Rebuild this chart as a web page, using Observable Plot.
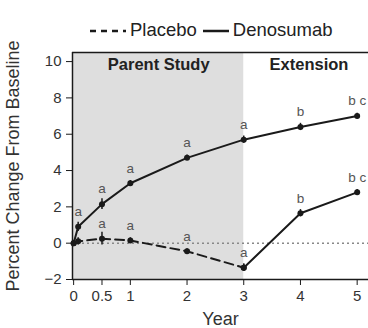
<!DOCTYPE html>
<html><head><meta charset="utf-8">
<script src="https://cdn.jsdelivr.net/npm/d3@7"></script>
<script src="https://cdn.jsdelivr.net/npm/@observablehq/plot@0.6"></script>
<style>
html,body{margin:0;padding:0;background:#fff;}
#wrap{position:relative;width:368px;height:328px;font-family:"Liberation Sans",Arial,sans-serif;}
#legend{position:absolute;left:88px;top:19px;white-space:nowrap;font-size:18.5px;color:#222;z-index:2;line-height:22px;}
#legend svg{vertical-align:middle;}
</style></head>
<body>
<div id="wrap"><div id="legend"></div></div>
<script>
const years = [0, 0.08, 0.5, 1, 2, 3, 4, 5];
const denosumab = [0, 0.9, 2.15, 3.3, 4.7, 5.7, 6.4, 7.0];
const denoErr = [0.15, 0.25, 0.3, 0.15, 0.15, 0.2, 0.2, 0.15];
const denoLabels = ["", "a", "a", "a", "a", "a", "b", "b c"];
const placebo = [0, 0.1, 0.25, 0.15, -0.45, -1.35];
const placeboErr = [0.15, 0.2, 0.35, 0.15, 0.15, 0.2];
const placeboLabels = ["", "", "a", "a", "a", "a"];
const crossYears = [3, 4, 5];
const crossover = [-1.35, 1.65, 2.8];
const crossErr = [0.2, 0.2, 0.15];
const crossLabels = ["", "b", "b c"];
const xTicks = [0, 0.5, 1, 2, 3, 4, 5];
const yTicks = [-2, 0, 2, 4, 6, 8, 10];
const periods = [{label: "Parent Study", x1: 0, x2: 3, fill: "#dedede"}, {label: "Extension", x1: 3, x2: 5.2, fill: "none"}];

const deno = years.map((x, i) => ({x, y: denosumab[i], e: denoErr[i], l: denoLabels[i]}));
const plac = placebo.map((y, i) => ({x: years[i], y, e: placeboErr[i], l: placeboLabels[i]}));
const cross = crossYears.map((x, i) => ({x, y: crossover[i], e: crossErr[i], l: crossLabels[i]}));
const allPts = [...deno, ...plac, ...cross];

const ink = "#1a1a1a";
const chart = Plot.plot({
  width: 368, height: 328,
  marginLeft: 72, marginRight: 0, marginTop: 52, marginBottom: 49,
  style: {fontFamily: "Liberation Sans, Arial, sans-serif", fontSize: "15px", color: "#333", background: "transparent"},
  x: {domain: [-0.02, 5.2]},
  y: {domain: [-2, 10.5]},
  marks: [
    Plot.rectX(periods, {x1: "x1", x2: "x2", y1: -2, y2: 10.5, fill: "fill"}),
    Plot.text(periods, {x: d => (d.x1 + Math.min(d.x2, 5)) / 2 + (d.x1 === 3 ? 0.15 : 0), y: 9.8, text: "label", fontWeight: "bold", fontSize: 16.5, fill: "#222"}),
    Plot.ruleY([0], {stroke: "#888", strokeWidth: 1.5, strokeDasharray: "2,3"}),
    Plot.ruleY([10.5], {stroke: ink, strokeWidth: 1.5}),
    Plot.line(plac, {x: "x", y: "y", stroke: ink, strokeWidth: 2, strokeDasharray: "9,5"}),
    Plot.line(deno, {x: "x", y: "y", stroke: ink, strokeWidth: 2}),
    Plot.line(cross, {x: "x", y: "y", stroke: ink, strokeWidth: 2}),
    Plot.ruleX(allPts, {x: "x", y1: d => d.y - d.e, y2: d => d.y + d.e, stroke: ink, strokeWidth: 1.5}),
    Plot.dot(allPts, {x: "x", y: "y", r: 3, fill: ink}),
    Plot.text(allPts.filter(d => d.l), {x: "x", y: "y", text: "l", dy: -15, fill: "#555", fontSize: 13.5}),
    Plot.axisX({ticks: xTicks, tickFormat: d => String(d), tickSize: 6, stroke: ink, fontSize: 15, fill: "#333", tickPadding: 5, label: null}),
    Plot.axisX({ticks: [], label: "Year", labelAnchor: "center", labelArrow: "none", labelOffset: 45, fontSize: 18, fill: "#333"}),
    Plot.axisY({ticks: yTicks, tickSize: 6, stroke: ink, fontSize: 15, fill: "#333", tickPadding: 5, label: null}),
    Plot.axisY({ticks: [], label: "Percent Change From Baseline", labelAnchor: "center", labelArrow: "none", labelOffset: 66, fontSize: 18, fill: "#333"}),
    Plot.ruleX([-0.02], {stroke: ink, strokeWidth: 1.5}),
    Plot.ruleY([-2], {stroke: ink, strokeWidth: 1.5})
  ]
});
document.getElementById("wrap").appendChild(chart);
chart.style.position = "absolute"; chart.style.left = "0"; chart.style.top = "0";

const legendItems = [{name: "Placebo", dash: "6,5", w: 40}, {name: "Denosumab", dash: null, w: 30}];
const lg = document.getElementById("legend");
legendItems.forEach((it, i) => {
  const s = d3.create("svg").attr("width", it.w).attr("height", 10);
  s.append("line").attr("x1", 2).attr("x2", it.w - 2).attr("y1", 5).attr("y2", 5)
   .attr("stroke", ink).attr("stroke-width", 2.5).attr("stroke-dasharray", it.dash);
  lg.appendChild(s.node());
  const t = document.createElement("span"); t.textContent = it.name; t.style.marginLeft = "2px"; t.style.marginRight = i === 0 ? "4px" : "0";
  lg.appendChild(t);
});
</script>
</body></html>
